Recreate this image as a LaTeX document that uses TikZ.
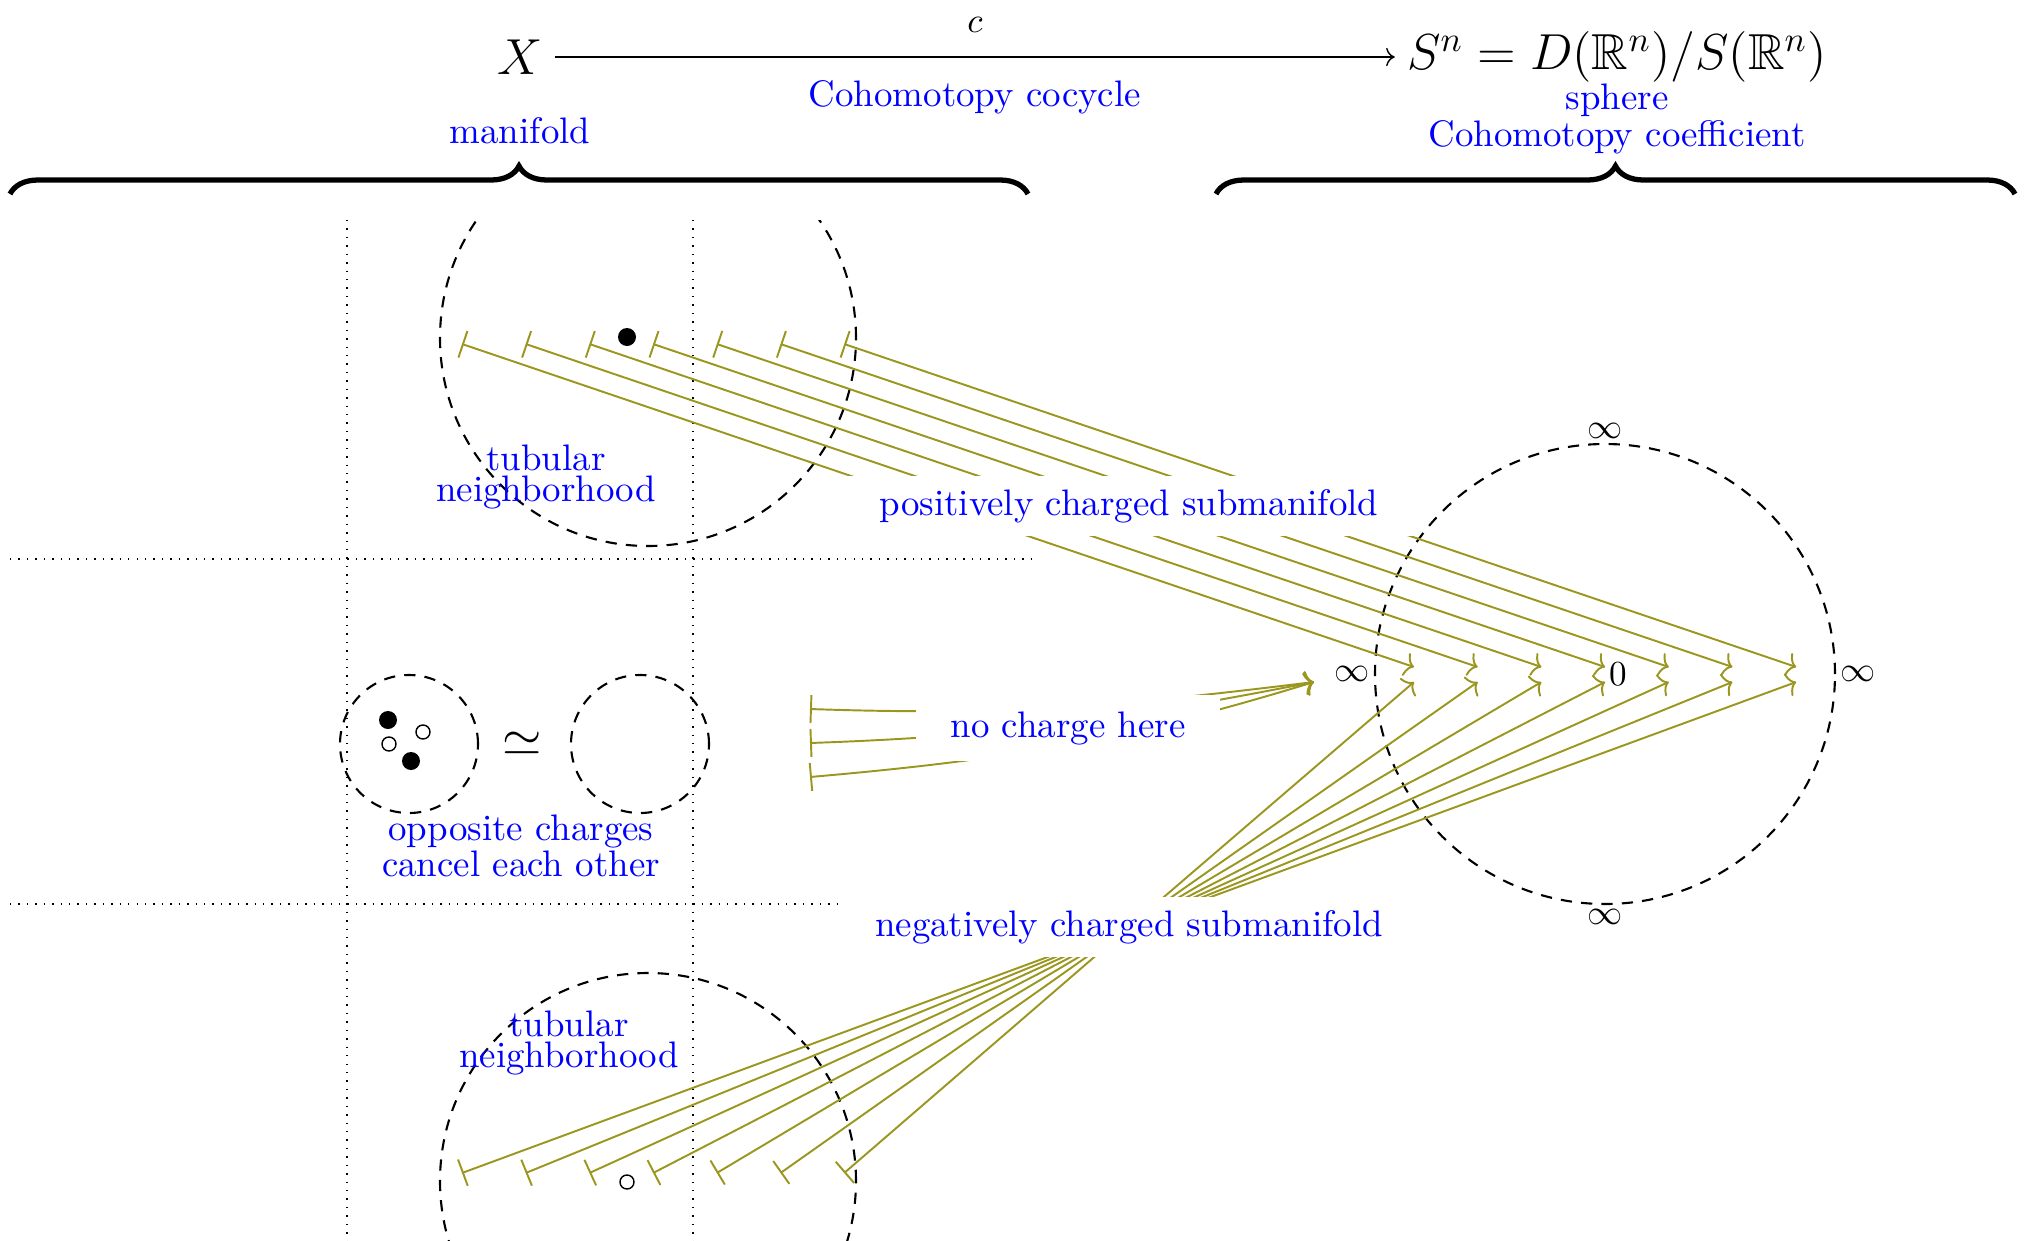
\documentclass[tikz,border=0pt]{standalone}
\usepackage{amsmath}
\usepackage{amssymb}
\usepackage{fontspec}
\usepackage{xcolor}
\usepackage{tikz}
\usetikzlibrary{arrows.meta,decorations.pathreplacing}
\definecolor{chargecol}{RGB}{155,150,30}

\begin{document}
\begin{tikzpicture}[
    note/.style={text=blue, align=center, font=\fontsize{10.5}{9}\selectfont},
    chargelbl/.style={note, fill=white, inner xsep=0.35cm, minimum height=0.6cm},
    charge/.style={draw=chargecol, line width=0.55pt, {Bar[width=0.28cm]}-{To[length=0.09cm,width=0.24cm]}},
    ball/.style={circle, draw, dash pattern=on 3.2pt off 2.6pt, semithick, inner sep=0pt},
    poscharge/.style={circle, fill, inner sep=0pt, minimum size=0.18cm},
    negcharge/.style={circle, draw, inner sep=0pt, minimum size=0.14cm},
    inflbl/.style={inner sep=1pt},
    bigbrace/.style={decorate, decoration={brace, amplitude=0.28cm}, line width=1.5pt}
]
    \useasboundingbox (0,0) rectangle (20.28,-12.41);
    \clip (0,0) rectangle (20.28,-12.41);

    % the cocycle
    \node (X) at (5.20,-0.57) {\Large $X$};
    \node (Sn) at (16.17,-0.57) {\Large $S^n = D(\mathbb{R}^n)/S(\mathbb{R}^n)$};
    \draw[-{To}] (X) -- node[above=0.12cm] (c) {$c$} node[below=0.11cm, note] (cocycle) {Cohomotopy cocycle} (Sn);
    \node[note] (manifold) at (5.20,-1.31) {manifold};
    \node[note] (coeff) at (16.17,-1.19) {sphere\\Cohomotopy coefficient};
    \draw[bigbrace] (0.10,-1.94) -- (10.28,-1.94);
    \draw[bigbrace] (12.16,-1.94) -- (20.15,-1.94);

    % grid and tubular neighborhoods
    \begin{scope}
        \clip (0,-2.2) rectangle (20.28,-12.41);
        \draw[dotted] (3.47,-2.2) -- (3.47,-12.41);
        \draw[dotted] (6.93,-2.2) -- (6.93,-12.41);
        \draw[dotted] (0.10,-5.59) -- (10.31,-5.59);
        \draw[dotted] (0.10,-9.04) -- (8.47,-9.04);
        \node[ball, minimum size=4.16cm] (tubeTop) at (6.48,-3.38) {};
        \node[ball, minimum size=4.16cm] (tubeBot) at (6.48,-11.81) {};
    \end{scope}
    \node[poscharge] (qTop) at (6.27,-3.37) {};
    \node[negcharge] (qBot) at (6.27,-11.82) {};
    \node[note] (tubeTopLbl) at (5.46,-4.77) {tubular\\neighborhood};
    \node[note] (tubeBotLbl) at (5.69,-10.43) {tubular\\neighborhood};

    % cancelling pair
    \node[ball, minimum size=1.38cm] (pair) at (4.09,-7.44) {};
    \node[ball, minimum size=1.38cm] (empty) at (6.40,-7.44) {};
    \node (simeq) at (5.22,-7.44) {\Large $\simeq$};
    \node[poscharge] (p1) at (3.88,-7.20) {};
    \node[poscharge] (p2) at (4.11,-7.61) {};
    \node[negcharge] (n1) at (3.89,-7.44) {};
    \node[negcharge] (n2) at (4.23,-7.32) {};
    \node[note] (cancel) at (5.21,-8.46) {opposite charges\\cancel each other};

    % the sphere
    \node[ball, minimum size=4.6cm] (sphere) at (16.05,-6.74) {};
    \node[above, inflbl] (infN) at (sphere.north) {$\infty$};
    \node[below, inflbl] (infS) at (sphere.south) {$\infty$};
    \node[left, inflbl] (infW) at (sphere.west) {$\infty$};
    \node[right, inflbl] (infE) at (sphere.east) {$\infty$};
    \node[right, inflbl] (zero) at (sphere.center) {$0$};

    % charged submanifolds
    \foreach \i in {0,...,6} {
        \coordinate (t\i) at (4.62+0.637*\i,-3.44);
        \coordinate (b\i) at (4.62+0.637*\i,-11.73);
        \coordinate (u\i) at (14.14+0.637*\i,-6.67);
        \coordinate (l\i) at (14.14+0.637*\i,-6.82);
    }
    \coordinate (negc) at (11.29,-9.27);
    \foreach \i in {0,...,6} {
        \draw[charge] (t\i) -- (u\i);
        \draw[charge] (b\i) -- (negc) -- (l\i);
    }

    % no charge
    \coordinate (nc1) at (8.10,-7.09);
    \coordinate (nc2) at (8.10,-7.43);
    \coordinate (nc3) at (8.10,-7.77);
    \coordinate (ncTip) at (13.14,-6.82);
    \draw[charge] (nc1) to[out=-2, in=187] (ncTip);
    \draw[charge] (nc2) to[out=2, in=191] (ncTip);
    \draw[charge] (nc3) to[out=5, in=197] (ncTip);

    \node[chargelbl] (posLbl) at (11.29,-5.06) {positively charged submanifold};
    \node[chargelbl] (negLbl) at (negc) {negatively charged submanifold};
    \node[chargelbl, minimum height=0.66cm] (noLbl) at (10.68,-7.28) {no charge here};
\end{tikzpicture}
\end{document}
